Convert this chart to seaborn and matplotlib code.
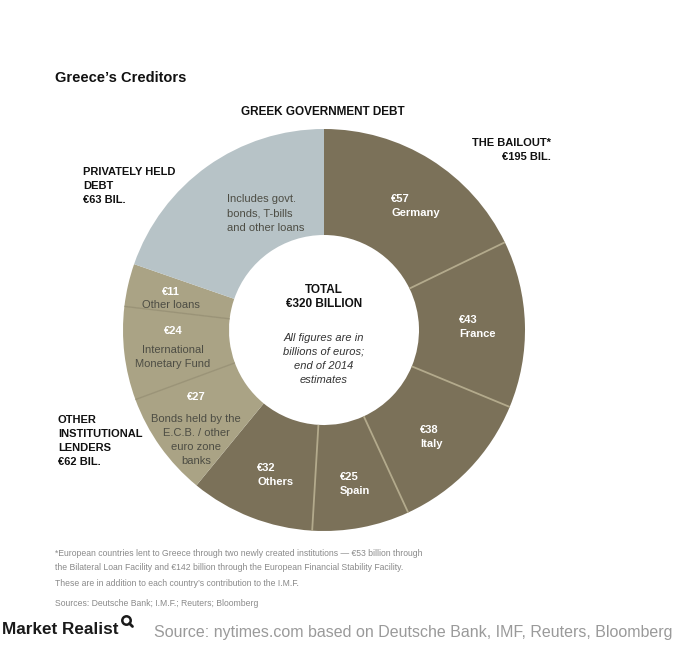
import matplotlib
matplotlib.use("Agg")
import matplotlib.pyplot as plt
import seaborn as sns
import numpy as np
from matplotlib.patches import Circle

sns.set_style("white")
plt.rcParams['font.family'] = ['Liberation Sans', 'DejaVu Sans']

# ---- data ----
names = ["Germany", "France", "Italy", "Spain", "Others",
         "Bonds held by the\nE.C.B. / other\neuro zone\nbanks",
         "International\nMonetary Fund", "Other loans",
         "Includes govt.\nbonds, T-bills\nand other loans"]
values = [57, 43, 38, 25, 32, 27, 24, 11, 63]
groups = ["bailout"] * 5 + ["other"] * 3 + ["private"]
group_colors = {"bailout": "#7b7159", "other": "#aaa385", "private": "#b7c3c7"}
sep_colors = {"bailout": "#b3aa8c", "other": "#9a9377"}

W, H = 676, 650
fig = plt.figure(figsize=(W / 100, H / 100), dpi=100)
ax = fig.add_axes([0, 0, 1, 1])

cx, cy, R, w = 324, H - 330, 201, 106
colors = [group_colors[g] for g in groups]
ax.pie(values, colors=colors, startangle=90, counterclock=False,
       radius=R, center=(cx, cy), frame=True,
       wedgeprops=dict(width=w, linewidth=0))
ax.set_xlim(0, W)
ax.set_ylim(0, H)
ax.set_aspect("equal")
ax.axis("off")

# separators between wedges of the same group
cum = np.cumsum(values)
for i in range(len(values) - 1):
    if groups[i] == groups[i + 1]:
        ang = np.deg2rad(90 - cum[i] / sum(values) * 360)
        r0, r1 = R - w, R
        ax.plot([cx + r0 * np.cos(ang), cx + r1 * np.cos(ang)],
                [cy + r0 * np.sin(ang), cy + r1 * np.sin(ang)],
                color=sep_colors[groups[i]], lw=1.3 if groups[i] == "bailout" else 1.0,
                solid_capstyle="butt")

def T(x, y, s, **kw):
    ax.text(x, H - y, s, **kw)

dark = "#111111"
T(55, 78, "Greece\u2019s Creditors", fontsize=10.5, fontweight="bold", color=dark, va="center")
T(323, 112, "GREEK GOVERNMENT DEBT", fontsize=8.5, fontweight="bold", color=dark, ha="center", va="center")
T(551, 143, "THE BAILOUT*", fontsize=8, fontweight="bold", color=dark, ha="right", va="center")
T(551, 157, "\u20ac195 BIL.", fontsize=8, fontweight="bold", color=dark, ha="right", va="center")
for i, s in enumerate(["PRIVATELY HELD", "DEBT", "\u20ac63 BIL."]):
    T(83, 172 + 14 * i, s, fontsize=8, fontweight="bold", color=dark, va="center")
for i, s in enumerate(["OTHER", "INSTITUTIONAL", "LENDERS", "\u20ac62 BIL."]):
    T(58, 420 + 14 * i, s, fontsize=8, fontweight="bold", color=dark, va="center")

# bailout labels (white, bold, left aligned)
pos_dark = [(391, 199), (459, 320), (420, 430), (340, 477), (257, 468)]
for (x, y), n, v in zip(pos_dark, names[:5], values[:5]):
    T(x, y, f"\u20ac{v}", fontsize=8, fontweight="bold", color="white", va="center")
    T(x, y + 14, n, fontsize=8, fontweight="bold", color="white", va="center")

# other institutional lenders (centered)
txtc = "#4d4d44"
pos_light = [(196, 397, 22), (173, 331, 19), (171, 292, 13)]
for (x, y, off), n, v in zip(pos_light, names[5:8], values[5:8]):
    T(x, y, f"\u20ac{v}", fontsize=8, fontweight="bold", color="white", ha="center", va="center")
    for j, line in enumerate(n.split("\n")):
        T(x, y + off + 14 * j, line, fontsize=8, color=txtc, ha="center", va="center")

# private
for j, line in enumerate(names[8].split("\n")):
    T(227, 199 + 14.5 * j, line, fontsize=8, color=txtc, va="center")

# center
T(cx, 290, "TOTAL", fontsize=8.5, fontweight="bold", color=dark, ha="center", va="center")
T(cx, 304, "\u20ac320 BILLION", fontsize=8.5, fontweight="bold", color=dark, ha="center", va="center")
for j, line in enumerate(["All figures are in", "billions of euros;", "end of 2014", "estimates"]):
    T(cx, 338 + 14 * j, line, fontsize=8, style="italic", color="#333333", ha="center", va="center")

# footnote
fn = ["*European countries lent to Greece through two newly created institutions \u2014 \u20ac53 billion through",
      "the Bilateral Loan Facility and \u20ac142 billion through the European Financial Stability Facility.",
      "These are in addition to each country\u2019s contribution to the I.M.F."]
for j, line in enumerate(fn):
    T(55, 553 + 15 * j, line, fontsize=6.2, color="#8a8a8a", va="center")
T(55, 603, "Sources: Deutsche Bank; I.M.F.; Reuters; Bloomberg", fontsize=6.2, color="#8a8a8a", va="center")

T(2, 629, "Market Realist", fontsize=12.3, fontweight="bold", color="#1a1a1a", va="center")
# magnifier logo mark
ax.add_patch(Circle((126.5, H - 620.5), 4.2, fill=False, lw=1.8, edgecolor="#1a1a1a"))
ax.plot([129.5, 132.5], [H - 623.5, H - 626.5], color="#1a1a1a", lw=2, solid_capstyle="round")
T(672, 632, "Source: nytimes.com based on Deutsche Bank, IMF, Reuters, Bloomberg", fontsize=11.5,
  color="#9a9a9a", ha="right", va="center")

fig.savefig("out.png", dpi=100, facecolor="white")
